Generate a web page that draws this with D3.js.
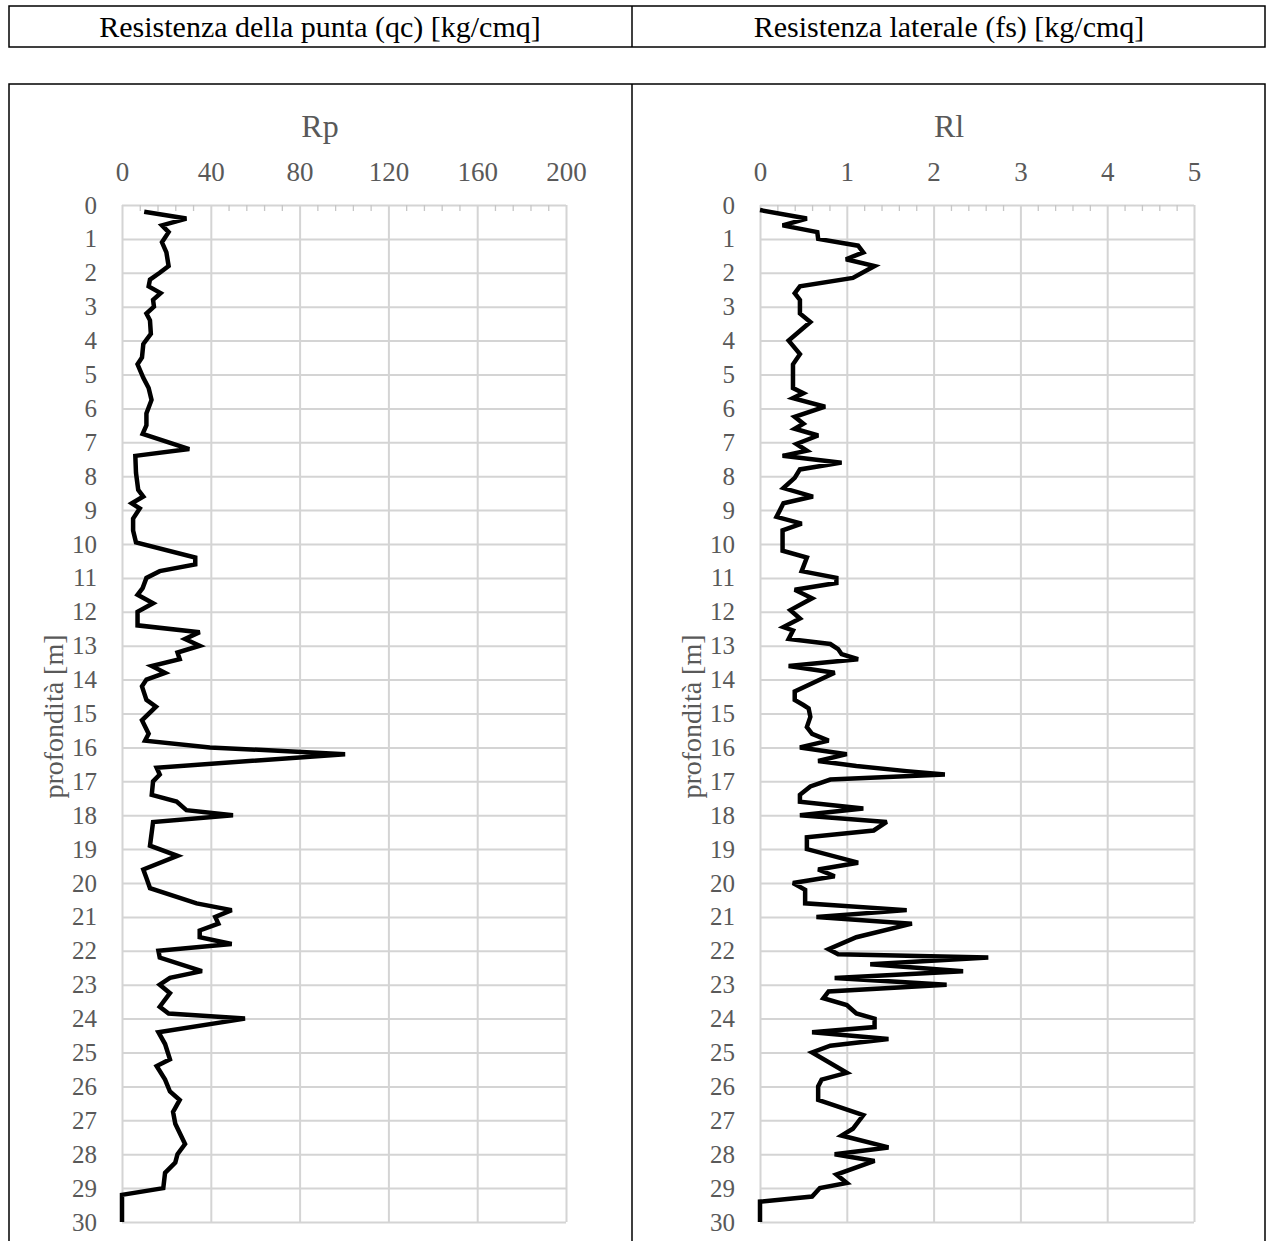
<!DOCTYPE html>
<html>
<head>
<meta charset="utf-8">
<script src="https://d3js.org/d3.v7.min.js"></script>
<style>
  body { margin: 0; background: #fff; }
  svg text { font-family: "Liberation Serif", "Times New Roman", serif; }
  .grid line { stroke: #d4d4d4; stroke-width: 2; }
  .grid path { display: none; }
  .minor line { stroke: #c6c6c6; stroke-width: 1.3; }
  .minor path { display: none; }
  .lbl path, .lbl line { display: none; }
  .lbl text { fill: #595959; }
</style>
</head>
<body>
<div id="chart"></div>
<script>
// depth steps (m) and readings for the tip resistance Rp [kg/cmq]
const rpDepth = [0.2, 0.4, 0.6, 0.8, 1.1, 1.4, 1.8, 2.0, 2.2, 2.4, 2.6, 2.8, 3.0, 3.2, 3.4, 3.8, 4.1, 4.5, 4.7, 5.1,
  5.4, 5.75, 6.15, 6.5, 6.75, 7.2, 7.4, 7.9, 8.4, 8.6, 8.8, 8.95, 9.25, 9.6, 9.95, 10.4, 10.6, 10.8, 11.0, 11.3,
  11.5, 11.75, 12.0, 12.4, 12.6, 12.8, 13.0, 13.2, 13.4, 13.6, 13.8, 14.0, 14.2, 14.6, 14.8, 15.2, 15.6, 15.8, 16.0, 16.2,
  16.6, 16.8, 17.0, 17.4, 17.6, 17.85, 18.0, 18.2, 18.9, 19.2, 19.6, 19.85, 20.15, 20.6, 20.8, 21.0, 21.2, 21.4, 21.6, 21.8,
  22.0, 22.2, 22.6, 22.8, 23.0, 23.25, 23.65, 23.85, 24.0, 24.4, 24.75, 25.2, 25.4, 25.8, 26.15, 26.4, 26.75, 27.1, 27.7, 28.0,
  28.25, 28.55, 29.0, 29.2, 30.0];
const rpValue = [10, 29, 18, 21, 18, 20, 21, 17, 12.6, 12, 17.4, 14, 14.4, 11, 12.6, 13, 9.6, 9, 7, 9.6,
  12, 13.3, 11, 11, 9.3, 30.3, 6, 6.3, 7.3, 9.6, 4.4, 8, 5, 5, 6.3, 33, 33, 17, 11, 9.3,
  7, 14, 7, 7, 35, 28.4, 35, 25, 26, 13.4, 19.4, 11, 9, 11, 15.3, 9, 12, 10.4, 39.6, 100.5,
  15.6, 17, 14, 13.4, 24.6, 29, 50, 14, 12.6, 25, 9.6, 11, 12.6, 33.6, 49.4, 42, 43.4, 35, 35, 49.4,
  16.4, 17, 36, 21.6, 17, 21.6, 17, 21, 55.4, 16.4, 19.4, 21.6, 15.6, 19.4, 21.6, 26, 23, 24, 28.4, 25,
  24, 19.4, 18.6, 0, 0];

// depth steps (m) and readings for the side resistance Rl [kg/cmq]
const rlDepth = [0.15, 0.4, 0.6, 0.8, 1.0, 1.2, 1.4, 1.6, 1.8, 2.15, 2.4, 2.6, 2.8, 3.2, 3.45, 4.0, 4.4, 4.7, 5.4, 5.55,
  5.7, 5.95, 6.25, 6.45, 6.6, 6.8, 7.05, 7.25, 7.4, 7.6, 7.8, 8.05, 8.35, 8.6, 8.8, 9.2, 9.4, 9.6, 10.2, 10.4,
  10.8, 11.0, 11.15, 11.35, 11.6, 11.95, 12.2, 12.45, 12.55, 12.8, 12.95, 13.1, 13.25, 13.4, 13.6, 13.8, 14.35, 14.6, 14.75, 14.85,
  15.1, 15.4, 15.6, 15.8, 16.0, 16.2, 16.4, 16.55, 16.7, 16.8, 16.95, 17.15, 17.4, 17.6, 17.8, 18.0, 18.2, 18.45, 18.65, 19.0,
  19.4, 19.6, 19.8, 20.0, 20.2, 20.6, 20.8, 21.0, 21.2, 21.6, 21.95, 22.1, 22.2, 22.4, 22.6, 22.8, 23.0, 23.2, 23.4, 23.6,
  23.85, 24.0, 24.25, 24.4, 24.6, 24.8, 25.0, 25.6, 25.8, 26.0, 26.4, 26.85, 27.25, 27.45, 27.8, 28.0, 28.2, 28.6, 28.85, 29.0,
  29.25, 29.4, 30.0];
const rlValue = [0, 0.54, 0.26, 0.66, 0.67, 1.13, 1.19, 0.99, 1.32, 1.07, 0.46, 0.40, 0.46, 0.46, 0.58, 0.33, 0.46, 0.38, 0.38, 0.5,
  0.38, 0.75, 0.40, 0.50, 0.40, 0.67, 0.42, 0.54, 0.26, 0.94, 0.46, 0.40, 0.27, 0.61, 0.27, 0.19, 0.48, 0.26, 0.26, 0.54,
  0.48, 0.88, 0.88, 0.40, 0.60, 0.35, 0.46, 0.27, 0.38, 0.33, 0.81, 0.90, 0.94, 1.13, 0.33, 0.86, 0.40, 0.40, 0.50, 0.56,
  0.58, 0.54, 0.60, 0.79, 0.46, 1.0, 0.67, 1.11, 1.69, 2.13, 0.81, 0.58, 0.46, 0.46, 1.19, 0.46, 1.46, 1.31, 0.54, 0.54,
  1.13, 0.67, 0.86, 0.38, 0.52, 0.52, 1.69, 0.65, 1.75, 1.11, 0.79, 0.90, 2.63, 1.27, 2.34, 0.86, 2.15, 0.79, 0.73, 1.0,
  1.11, 1.32, 1.32, 0.60, 1.48, 0.81, 0.60, 1.0, 0.71, 0.67, 0.67, 1.19, 1.07, 0.94, 1.48, 0.86, 1.32, 0.88, 1.0, 0.69,
  0.60, 0, 0];

// axis ticks
const rpTicks = [0, 40, 80, 120, 160, 200];
const rlTicks = [0, 1, 2, 3, 4, 5];
const depthTicks = d3.range(0, 31);

const headers = ['Resistenza della punta (qc) [kg/cmq]', 'Resistenza laterale (fs) [kg/cmq]'];

const svg = d3.select('#chart').append('svg')
    .attr('width', 1272)
    .attr('height', 1241);

svg.append('rect').attr('width', 1272).attr('height', 1241).attr('fill', '#fff');

// header boxes
svg.append('rect')
    .attr('x', 9).attr('y', 6).attr('width', 1256).attr('height', 41)
    .attr('fill', 'none').attr('stroke', '#000').attr('stroke-width', 1.5);
svg.append('line')
    .attr('x1', 632).attr('x2', 632).attr('y1', 6).attr('y2', 47)
    .attr('stroke', '#000').attr('stroke-width', 1.5);
svg.selectAll('.hdr')
    .data(headers)
    .join('text')
    .attr('class', 'hdr')
    .attr('x', (d, i) => i === 0 ? 320 : 949)
    .attr('y', 37)
    .attr('text-anchor', 'middle')
    .attr('font-size', 30)
    .attr('fill', '#000')
    .text(d => d);

// panel frame (runs off the bottom of the page)
svg.append('path')
    .attr('d', 'M9,1260 V84 H1265 V1260 M632,84 V1260')
    .attr('fill', 'none').attr('stroke', '#000').attr('stroke-width', 1.5);

class DepthProfile {
  constructor(_config, _depth, _value) {
    this.config = _config;
    this.depth = _depth;
    this.value = _value;
    this.initVis();
  }

  initVis() {
    let vis = this;
    let c = vis.config;

    vis.width = c.right - c.left;
    vis.height = c.bottom - c.top;

    vis.x = d3.scaleLinear().domain([0, c.max]).range([0, vis.width]);
    vis.y = d3.scaleLinear().domain([0, 30]).range([0, vis.height]);

    vis.g = svg.append('g')
        .attr('transform', `translate(${c.left},${c.top})`);

    vis.renderVis();
  }

  renderVis() {
    let vis = this;
    let c = vis.config;

    // horizontal gridlines, one per metre
    vis.g.append('g')
        .attr('class', 'grid')
        .call(d3.axisLeft(vis.y).tickValues(depthTicks).tickSize(-vis.width).tickFormat(''));

    // vertical gridlines
    vis.g.append('g')
        .attr('class', 'grid')
        .call(d3.axisTop(vis.x).tickValues(c.ticks).tickSize(-vis.height).tickFormat(''));

    // minor ticks hanging from the top axis
    let step = c.ticks[1] / 5;
    let minors = d3.range(0, c.max + step / 2, step).filter((d, i) => i % 5 !== 0);
    vis.g.append('g')
        .attr('class', 'minor')
        .call(d3.axisTop(vis.x).tickValues(minors).tickSize(-6).tickFormat(''));

    // top tick labels
    vis.g.append('g')
        .attr('class', 'lbl')
        .call(d3.axisTop(vis.x).tickValues(c.ticks).tickFormat(d3.format('d')).tickSize(0).tickPadding(24))
        .selectAll('text')
        .attr('font-size', 27)
        .attr('font-family', '"Liberation Serif", serif');

    // depth labels
    vis.g.append('g')
        .attr('class', 'lbl')
        .call(d3.axisLeft(vis.y).tickValues(depthTicks).tickSize(0).tickPadding(25))
        .selectAll('text')
        .attr('font-size', 25)
        .attr('font-family', '"Liberation Serif", serif');

    // chart title
    svg.append('text')
        .attr('x', c.titleX)
        .attr('y', 137)
        .attr('text-anchor', 'middle')
        .attr('font-size', 32)
        .attr('fill', '#595959')
        .text(c.title);

    // depth axis title
    svg.append('text')
        .attr('transform', `translate(${c.left - 59},${c.top + vis.height / 2 + 3}) rotate(-90)`)
        .attr('text-anchor', 'middle')
        .attr('font-size', 28)
        .attr('fill', '#595959')
        .text('profondità [m]');

    let line = d3.line()
        .x((d, i) => vis.x(vis.value[i]))
        .y(d => vis.y(d));

    vis.g.append('path')
        .datum(vis.depth)
        .attr('d', line)
        .attr('fill', 'none')
        .attr('stroke', '#000')
        .attr('stroke-width', 4.5)
        .attr('stroke-linejoin', 'miter')
        .attr('stroke-miterlimit', 3);
  }
}

new DepthProfile({ left: 122, right: 566, top: 205, bottom: 1222, max: 200, ticks: rpTicks, title: 'Rp', titleX: 320 }, rpDepth, rpValue);
new DepthProfile({ left: 760, right: 1194, top: 205, bottom: 1222, max: 5, ticks: rlTicks, title: 'Rl', titleX: 949 }, rlDepth, rlValue);
</script>
</body>
</html>
